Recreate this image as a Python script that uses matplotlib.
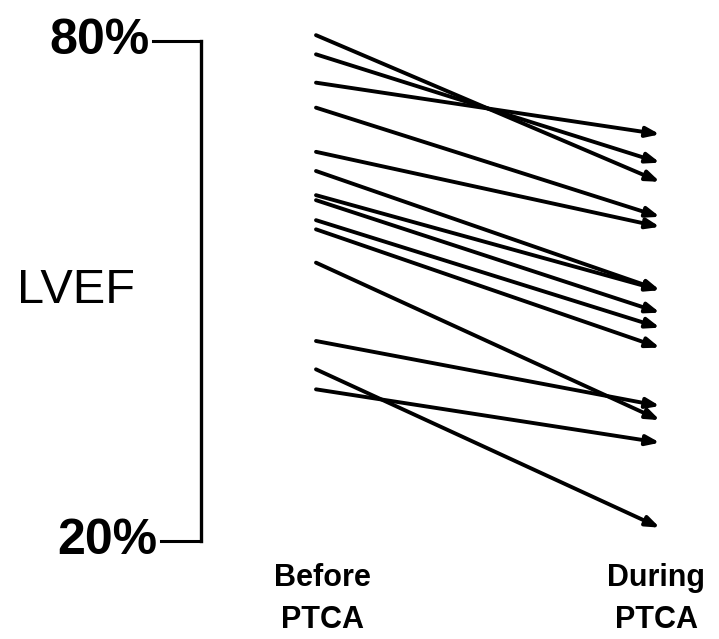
import matplotlib
matplotlib.use("Agg")
import matplotlib.pyplot as plt

plt.rcParams['font.family'] = ['Liberation Sans', 'DejaVu Sans']

# LVEF (%) per patient, before and during PTCA
before = [80.7, 78.4, 75.0, 72.0, 66.7, 64.4, 61.5, 60.9, 58.5, 57.4, 53.4, 44.0, 40.6, 38.2]
during = [63.1, 65.4, 68.8, 58.9, 57.7, 50.1, 50.1, 47.4, 45.6, 43.2, 34.5, 36.2, 21.6, 31.8]

tick_vals = [80, 20]
tick_labels = ['80%', '20%']
x_labels = [('Before', 'PTCA'), ('During', 'PTCA')]

fig = plt.figure(figsize=(7.19, 6.39), dpi=100)
ax = fig.add_axes([0, 0, 1, 1])
ax.set_xlim(-0.919, 1.172)
ax.set_ylim(8.24, 84.92)
ax.axis('off')

# patient arrows
for b, d in zip(before, during):
    ax.annotate('', xy=(1.0, d), xytext=(0.0, b),
                arrowprops=dict(arrowstyle='-|>,head_length=0.8,head_width=0.3',
                                color='black', lw=2.8, shrinkA=0, shrinkB=0))

# bracket axis
ax.plot([-0.335, -0.335], [tick_vals[0], tick_vals[1]], color='black', lw=2.4,
        solid_capstyle='projecting')
ax.plot([-0.475, -0.335], [tick_vals[0]] * 2, color='black', lw=2.2)
ax.plot([-0.452, -0.335], [tick_vals[1]] * 2, color='black', lw=2.2)
ax.text(-0.485, tick_vals[0], tick_labels[0], ha='right', va='center',
        fontsize=36, fontweight='bold')
ax.text(-0.462, tick_vals[1], tick_labels[1], ha='right', va='center',
        fontsize=36, fontweight='bold')

ax.text(-0.697, 50.1, 'LVEF', ha='center', va='center', fontsize=35)

for xpos, (l1, l2) in zip([0.02, 0.99], x_labels):
    ax.text(xpos, 15.6, l1, ha='center', va='center', fontsize=22, fontweight='bold')
    ax.text(xpos, 10.5, l2, ha='center', va='center', fontsize=22, fontweight='bold')

fig.savefig('out.png', dpi=100)
